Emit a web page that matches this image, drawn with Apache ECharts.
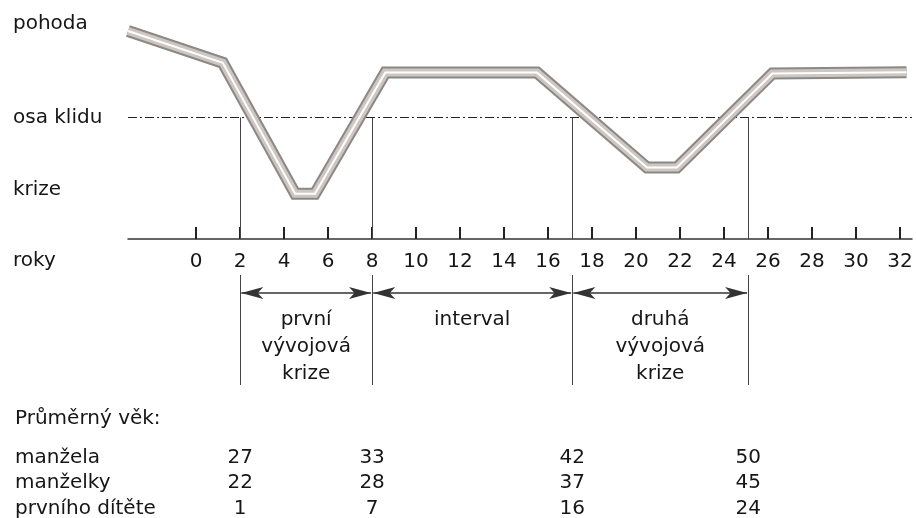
<!DOCTYPE html>
<html>
<head>
<meta charset="utf-8">
<script src="https://cdn.jsdelivr.net/npm/echarts@6/dist/echarts.min.js"></script>
<style>
  html, body { margin: 0; padding: 0; background: #fff; }
  #chart { width: 916px; height: 518px; }
</style>
</head>
<body>
<div id="chart"></div>
<script>
// ---- data ----
var yearTicks = [0, 2, 4, 6, 8, 10, 12, 14, 16, 18, 20, 22, 24, 26, 28, 30, 32];
var levelValues = [2, 0, -1.55];
var levelNames = ['pohoda', 'osa klidu', 'krize'];
var lineYears = [-3.1, 1.21, 4.5, 5.4, 8.6, 15.5, 20.5, 21.86, 26.2, 32.3];
var lineMood = [1.85, 1.17, -1.63, -1.63, 0.96, 0.96, -1.07, -1.07, 0.94, 0.97];
var boundaries = [2, 8, 17.1, 25.1];
var phaseNames = ['první\nvývojová\nkrize', 'interval', 'druhá\nvývojová\nkrize'];
var tableRows = ['manžela', 'manželky', 'prvního dítěte'];
var husbandAges = [27, 33, 42, 50];
var wifeAges = [22, 28, 37, 45];
var childAges = [1, 7, 16, 24];
var axisName = 'roky';
var tableTitle = 'Průměrný věk:';

// ---- layout ----
var FONT = 'DejaVu Sans';
var FS = 20;
var TXT = '#161616';
var X_MIN = -3.1, X_MAX = 32.55;
var G_LEFT = 128, G_RIGHT = 4;

var chart = echarts.init(document.getElementById('chart'), null, { renderer: 'canvas' });

var linePts = lineYears.map(function (x, i) { return [x, lineMood[i]]; });

function hiddenX(gi) {
  return { type: 'value', gridIndex: gi, min: X_MIN, max: X_MAX, show: false };
}

var upperVerticals = boundaries.map(function (b) {
  return [{ coord: [b, 0] }, { coord: [b, -2.6] }];
});
var lowerVerticals = boundaries.map(function (b) {
  return [{ coord: [b, 0] }, { coord: [b, 110] }];
});
var arrows = [];
for (var i = 0; i < boundaries.length - 1; i++) {
  arrows.push([{ coord: [boundaries[i] + 0.05, 18] }, { coord: [boundaries[i + 1] - 0.05, 18] }]);
}
var phaseData = [];
for (var j = 0; j < phaseNames.length; j++) {
  phaseData.push({ name: phaseNames[j], value: [(boundaries[j] + boundaries[j + 1]) / 2, 31] });
}

function rowSeries(vals, rowName) {
  return {
    type: 'scatter', xAxisIndex: 2, yAxisIndex: 2,
    symbolSize: 0, silent: true,
    itemStyle: { opacity: 1 },
    data: vals.map(function (v, k) { return [boundaries[k], rowName, v]; }),
    label: {
      show: true, position: 'inside', formatter: function (p) { return String(p.value[2]); },
      fontFamily: FONT, fontSize: FS, color: TXT, opacity: 1
    }
  };
}

var option = {
  backgroundColor: '#fff',
  animation: false,
  grid: [
    { left: G_LEFT, right: G_RIGHT, top: 10, bottom: 279, containLabel: false, outerBoundsMode: 'none' },
    { left: G_LEFT, right: G_RIGHT, top: 275, height: 110, containLabel: false, outerBoundsMode: 'none' },
    { left: G_LEFT, right: G_RIGHT, top: 445, height: 76, containLabel: false, outerBoundsMode: 'none' }
  ],
  xAxis: [
    {
      type: 'value', gridIndex: 0, min: X_MIN, max: X_MAX,
      splitLine: { show: false },
      axisLine: { show: true, onZero: false, lineStyle: { color: '#333', width: 1.5 } },
      axisTick: { show: true, inside: true, length: 12, customValues: yearTicks, lineStyle: { color: '#222', width: 2 } },
      axisLabel: {
        show: true, customValues: yearTicks, margin: 13,
        fontFamily: FONT, fontSize: FS, color: TXT
      }
    },
    hiddenX(1),
    hiddenX(2)
  ],
  yAxis: [
    {
      type: 'value', gridIndex: 0, min: -2.6, max: 2.3,
      splitLine: { show: false }, axisLine: { show: false }, axisTick: { show: false },
      axisLabel: {
        show: true, customValues: levelValues, align: 'left', margin: G_LEFT - 13,
        fontFamily: FONT, fontSize: FS, color: TXT,
        formatter: function (v) {
          var idx = levelValues.indexOf(v);
          return idx >= 0 ? levelNames[idx] : '';
        }
      }
    },
    { type: 'value', gridIndex: 1, min: 0, max: 110, inverse: true, show: false },
    {
      type: 'category', gridIndex: 2, data: tableRows, inverse: true,
      axisLine: { show: false }, axisTick: { show: false }, splitLine: { show: false },
      axisLabel: { show: true, interval: 0, align: 'left', margin: G_LEFT - 15, fontFamily: FONT, fontSize: FS, color: TXT }
    }
  ],
  graphic: [
    { type: 'text', left: 13, top: 251, style: { text: axisName, font: FS + 'px "' + FONT + '"', fill: TXT } },
    { type: 'text', left: 15, top: 409, style: { text: tableTitle, font: FS + 'px "' + FONT + '"', fill: TXT } }
  ],
  series: [
    {
      type: 'line', xAxisIndex: 0, yAxisIndex: 0, data: linePts, symbol: 'none', silent: true,
      lineStyle: { color: '#8c8885', width: 12, join: 'miter' }, z: 3,
      markLine: {
        silent: true, symbol: 'none', label: { show: false },
        data: [{ yAxis: 0, lineStyle: { type: [9, 3, 2, 3], color: '#222', width: 1.2 } }].concat(upperVerticals),
        lineStyle: { type: 'solid', color: '#444', width: 1 },
        z: 1
      }
    },
    {
      type: 'line', xAxisIndex: 0, yAxisIndex: 0, data: linePts, symbol: 'none', silent: true,
      lineStyle: { color: '#cdc6c1', width: 8, join: 'miter' }, z: 4
    },
    {
      type: 'line', xAxisIndex: 0, yAxisIndex: 0, data: linePts, symbol: 'none', silent: true,
      lineStyle: { color: '#ffffff', width: 2, join: 'miter' }, z: 5
    },
    {
      type: 'scatter', xAxisIndex: 1, yAxisIndex: 1, symbolSize: 0, silent: true,
      itemStyle: { opacity: 1 },
      data: phaseData,
      label: {
        show: true, position: [0, 0], align: 'center', verticalAlign: 'top',
        formatter: '{b}', fontFamily: FONT, fontSize: FS, color: TXT, lineHeight: 27, opacity: 1
      },
      markLine: {
        silent: true, label: { show: false },
        symbol: 'none',
        lineStyle: { type: 'solid', color: '#444', width: 1 },
        data: lowerVerticals
      }
    },
    {
      type: 'line', xAxisIndex: 1, yAxisIndex: 1, data: [], silent: true,
      markLine: {
        silent: true, label: { show: false },
        symbol: ['arrow', 'arrow'], symbolSize: [9, 22],
        lineStyle: { type: 'solid', color: '#333', width: 1.5 },
        data: arrows
      }
    },
    rowSeries(husbandAges, tableRows[0]),
    rowSeries(wifeAges, tableRows[1]),
    rowSeries(childAges, tableRows[2])
  ]
};

chart.setOption(option);
</script>
</body>
</html>
